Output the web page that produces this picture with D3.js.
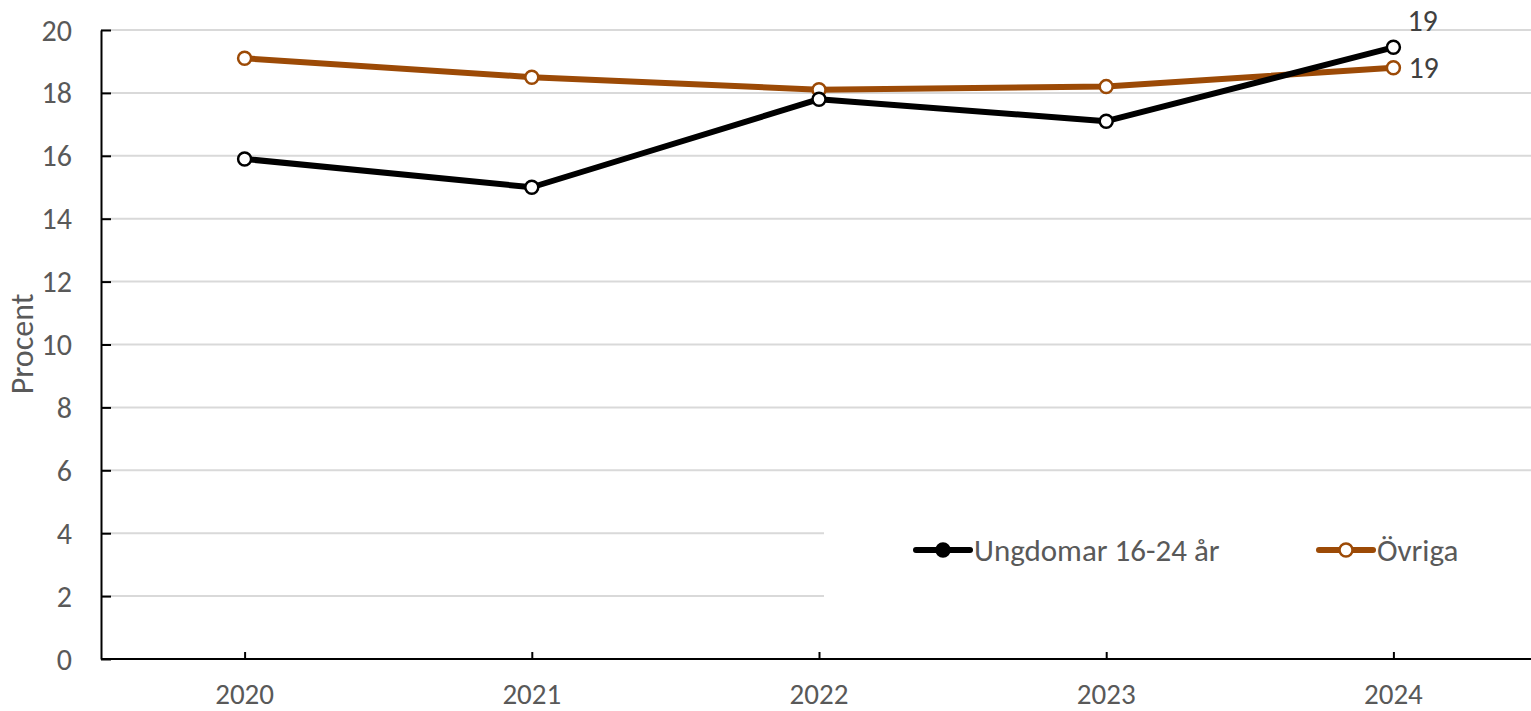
<!DOCTYPE html>
<html>
<head>
<meta charset="utf-8">
<script src="https://cdn.jsdelivr.net/npm/d3@7"></script>
<style>
  body { margin: 0; background: #fff; }
  text { font-family: Calibri, Carlito, Lato, sans-serif; fill: #595959; }
</style>
</head>
<body>
<svg width="1531" height="711"></svg>
<script>
var years = ["2020", "2021", "2022", "2023", "2024"];
var ungdomar = [15.9, 15.0, 17.8, 17.1, 19.45];
var ovriga = [19.1, 18.5, 18.1, 18.2, 18.8];
var yTicks = [0, 2, 4, 6, 8, 10, 12, 14, 16, 18, 20];

var series = [
  { name: "Övriga", values: ovriga, color: "#9C4A06", legendFill: "#fff" },
  { name: "Ungdomar 16-24 år", values: ungdomar, color: "#000", legendFill: "#000" }
];

var svg = d3.select("svg"),
    width = +svg.attr("width"),
    height = +svg.attr("height");

var plotLeft = 101, plotRight = 1537, plotTop = 30, plotBottom = 659;

var x = d3.scalePoint().domain(years).range([plotLeft, plotRight]).padding(0.5);
var y = d3.scaleLinear().domain([0, 20]).range([plotBottom, plotTop]);

// gridlines
svg.append("g")
  .selectAll("line")
  .data(yTicks.filter(function(d) { return d > 0; }))
  .enter().append("line")
  .attr("x1", plotLeft).attr("x2", 1531)
  .attr("y1", function(d) { return y(d); })
  .attr("y2", function(d) { return y(d); })
  .attr("stroke", "#d9d9d9")
  .attr("stroke-width", 2);

// legend background hides part of the grid
svg.append("rect")
  .attr("x", 824).attr("y", 505)
  .attr("width", 707).attr("height", 110)
  .attr("fill", "#fff");

// y axis
var yAxis = svg.append("g")
  .attr("transform", "translate(" + plotLeft + ",0)")
  .call(d3.axisRight(y).tickValues(yTicks).tickSize(10).tickSizeOuter(0).tickFormat(""));
yAxis.select(".domain").attr("stroke", "#000").attr("stroke-width", 2);
yAxis.selectAll(".tick line").attr("stroke", "#000").attr("stroke-width", 2);

svg.append("g")
  .selectAll("text")
  .data(yTicks)
  .enter().append("text")
  .attr("x", 72)
  .attr("y", function(d) { return y(d); })
  .attr("dy", "0.35em")
  .attr("text-anchor", "end")
  .style("font-size", "30px")
  .text(function(d) { return d; });

svg.append("text")
  .attr("transform", "translate(22," + 344 + ") rotate(-90)")
  .attr("text-anchor", "middle")
  .attr("dy", "0.35em")
  .style("font-size", "32px")
  .text("Procent");

// x axis
var xAxis = svg.append("g")
  .attr("transform", "translate(0," + plotBottom + ")")
  .call(d3.axisTop(x).tickSize(7).tickSizeOuter(0).tickFormat(""));
xAxis.select(".domain").attr("d", "M" + plotLeft + ",0H1531").attr("stroke", "#000").attr("stroke-width", 2);
xAxis.selectAll(".tick line").attr("stroke", "#000").attr("stroke-width", 2);

svg.append("g")
  .selectAll("text")
  .data(years)
  .enter().append("text")
  .attr("x", function(d) { return x(d); })
  .attr("y", 704)
  .attr("text-anchor", "middle")
  .style("font-size", "29px")
  .text(function(d) { return d; });

// lines
var line = d3.line()
  .x(function(d, i) { return x(years[i]); })
  .y(function(d) { return y(d); });

series.forEach(function(s) {
  var g = svg.append("g");
  g.append("path")
    .datum(s.values)
    .attr("d", line)
    .attr("fill", "none")
    .attr("stroke", s.color)
    .attr("stroke-width", 6)
    .attr("stroke-linejoin", "round");
  g.selectAll("circle")
    .data(s.values)
    .enter().append("circle")
    .attr("cx", function(d, i) { return x(years[i]); })
    .attr("cy", function(d) { return y(d); })
    .attr("r", 6.5)
    .attr("fill", "#fff")
    .attr("stroke", s.color)
    .attr("stroke-width", 2.5);
});

// end labels
var last = years.length - 1;
svg.append("text")
  .attr("x", x(years[last]) + 14)
  .attr("y", y(ungdomar[last]) - 16)
  .style("font-size", "30px")
  .style("fill", "#404040")
  .text(Math.round(ungdomar[last]));
svg.append("text")
  .attr("x", x(years[last]) + 15)
  .attr("y", y(ovriga[last]))
  .attr("dy", "0.35em")
  .style("font-size", "30px")
  .style("fill", "#404040")
  .text(Math.round(ovriga[last]));

// legend
var legendItems = [
  { s: series[1], x: 916 },
  { s: series[0], x: 1319 }
];
legendItems.forEach(function(item) {
  var lg = svg.append("g").attr("transform", "translate(" + item.x + ",550)");
  lg.append("line")
    .attr("x1", 0).attr("x2", 54)
    .attr("stroke", item.s.color)
    .attr("stroke-width", 6)
    .attr("stroke-linecap", "round");
  lg.append("circle")
    .attr("cx", 27).attr("r", 6.5)
    .attr("fill", item.s.legendFill)
    .attr("stroke", item.s.color)
    .attr("stroke-width", 2.5);
  lg.append("text")
    .attr("x", 58)
    .attr("dy", "0.35em")
    .style("font-size", "31px")
    .text(item.s.name);
});
</script>
</body>
</html>
